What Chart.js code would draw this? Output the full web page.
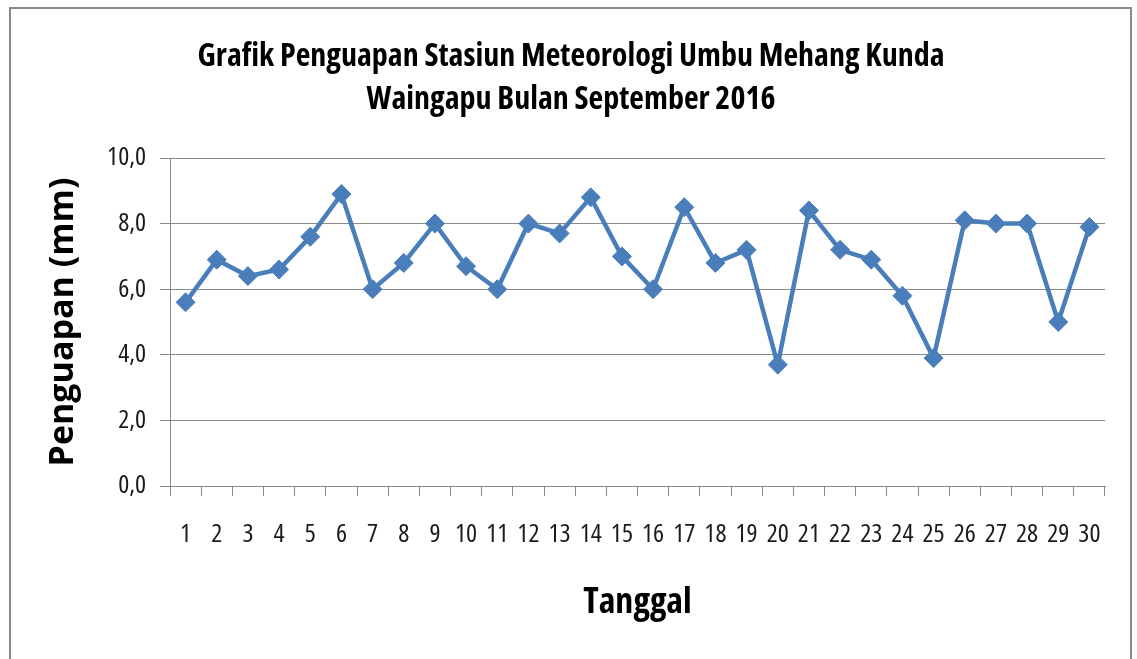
<!DOCTYPE html>
<html>
<head>
<meta charset="utf-8">
<script src="https://cdn.jsdelivr.net/npm/chart.js@4.4.0/dist/chart.umd.min.js"></script>
<style>
  html, body { margin: 0; padding: 0; background: #ffffff; width: 1137px; height: 659px; overflow: hidden; }
  #frame { position: absolute; left: 9px; top: 7px; width: 1123px; height: 700px; border: 2px solid #8a8a8a; box-sizing: border-box; }
  #wrap { position: absolute; left: 0; top: 0; width: 1137px; height: 659px; }
</style>
</head>
<body>
<div id="frame"></div>
<div id="wrap"><canvas id="c" width="1137" height="659"></canvas></div>
<script>
const titleLines = ['Grafik Penguapan Stasiun Meteorologi Umbu Mehang Kunda', 'Waingapu Bulan September 2016'];
const xAxisTitle = 'Tanggal';
const yAxisTitle = 'Penguapan (mm)';
const days = ['1','2','3','4','5','6','7','8','9','10','11','12','13','14','15','16','17','18','19','20','21','22','23','24','25','26','27','28','29','30'];
const evaporation = [5.6, 6.9, 6.4, 6.6, 7.6, 8.9, 6.0, 6.8, 8.0, 6.7, 6.0, 8.0, 7.7, 8.8, 7.0, 6.0, 8.5, 6.8, 7.2, 3.7, 8.4, 7.2, 6.9, 5.8, 3.9, 8.1, 8.0, 8.0, 5.0, 7.9];
const yTickValues = [0, 2, 4, 6, 8, 10];
const yTickLabels = ['0,0', '2,0', '4,0', '6,0', '8,0', '10,0'];

const fam = '"Open Sans", "DejaVu Sans Condensed", sans-serif';
const gridColor = '#8a8a8a';
const lineColor = '#4a7ebb';

new Chart(document.getElementById('c'), {
  type: 'line',
  data: {
    labels: days,
    datasets: [{
      data: evaporation,
      borderColor: lineColor,
      backgroundColor: lineColor,
      borderWidth: 4.5,
      pointStyle: 'rectRot',
      pointRadius: 9.5,
      pointBorderWidth: 1,
      pointBorderColor: lineColor,
      pointBackgroundColor: lineColor,
      tension: 0,
      fill: false
    }]
  },
  options: {
    responsive: false,
    animation: false,
    devicePixelRatio: 1,
    layout: { padding: { left: 37, right: 32, top: 0, bottom: 0 } },
    plugins: {
      legend: { display: false },
      tooltip: { enabled: false },
      title: {
        display: true,
        text: titleLines,
        color: '#000000',
        font: { family: fam, size: 32, weight: 'condensed bold', lineHeight: 43 / 32 },
        padding: { top: 35.5, bottom: 36.5 }
      }
    },
    scales: {
      x: {
        type: 'category',
        offset: true,
        grid: { offset: true, drawOnChartArea: false, drawTicks: true, tickLength: 10, color: gridColor, lineWidth: 1 },
        border: { display: true, color: gridColor, width: 1 },
        ticks: { color: '#1a1a1a', font: { family: fam, size: 26, weight: 'condensed' }, padding: 23, maxRotation: 0, minRotation: 0, autoSkip: false },
        title: {
          display: true,
          text: xAxisTitle,
          color: '#000000',
          font: { family: fam, size: 36, weight: 'condensed bold', lineHeight: 1.2 },
          padding: { top: 0, bottom: 34.5 }
        },
        afterFit: (s) => { s.height = 173; }
      },
      y: {
        min: 0,
        max: 10,
        afterBuildTicks: (s) => { s.ticks = yTickValues.map(v => ({ value: v })); },
        grid: { drawOnChartArea: true, drawTicks: true, tickLength: 10, color: gridColor, lineWidth: 1 },
        border: { display: true, color: gridColor, width: 1 },
        ticks: {
          color: '#1a1a1a',
          font: { family: fam, size: 26, weight: 'condensed' },
          padding: 14,
          callback: (v) => { const i = yTickValues.indexOf(v); return i >= 0 ? yTickLabels[i] : ''; }
        },
        title: {
          display: true,
          text: yAxisTitle,
          color: '#000000',
          font: { family: fam, size: 34, weight: 'bold', lineHeight: 1.2 },
          padding: { top: 6.4, bottom: 0 }
        },
        afterFit: (s) => { s.width = 133; }
      }
    }
  }
});
</script>
</body>
</html>
